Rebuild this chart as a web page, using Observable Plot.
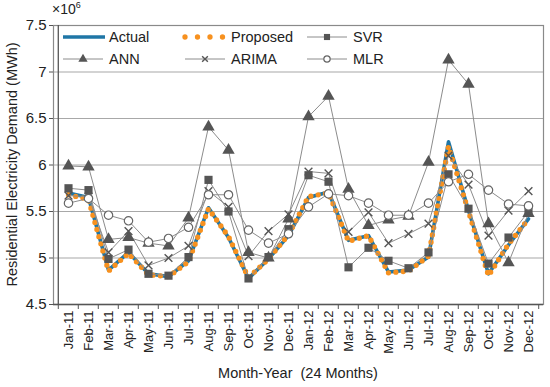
<!DOCTYPE html>
<html><head>
<meta charset="utf-8">
<script src="https://cdn.jsdelivr.net/npm/d3@7"></script>
<script src="https://cdn.jsdelivr.net/npm/@observablehq/plot@0.6"></script>
<style>body{margin:0;background:#fff;} #chart svg{display:block;}</style>
</head><body><div id="chart"></div>
<script>
const months = ["Jan-11","Feb-11","Mar-11","Apr-11","May-11","Jun-11","Jul-11","Aug-11","Sep-11","Oct-11","Nov-11","Dec-11",
                "Jan-12","Feb-12","Mar-12","Apr-12","May-12","Jun-12","Jul-12","Aug-12","Sep-12","Oct-12","Nov-12","Dec-12"];
const actual   = [5.70,5.65,4.87,5.06,4.83,4.80,4.97,5.54,5.22,4.78,4.99,5.24, 5.65,5.71,5.19,5.24,4.85,4.87,5.01,6.25,5.51,4.83,5.14,5.42];
const proposed = [5.68,5.63,4.86,5.05,4.82,4.80,4.96,5.53,5.23,4.79,4.99,5.25, 5.66,5.70,5.18,5.24,4.84,4.86,5.02,6.20,5.50,4.81,5.15,5.42];
const svr      = [5.75,5.73,4.99,5.09,4.83,4.81,5.01,5.84,5.50,4.78,5.01,5.31, 5.89,5.82,4.90,5.11,4.97,4.89,5.06,5.90,5.53,4.94,5.22,5.50];
const ann      = [5.99,5.98,5.20,5.22,5.16,5.13,5.43,6.41,6.16,5.06,5.00,5.42, 6.52,6.74,5.74,5.35,5.41,5.45,6.03,7.13,6.87,5.37,4.95,5.48];
const arima    = [5.67,5.66,5.06,5.29,4.92,5.00,5.13,5.72,5.55,5.02,5.29,5.47, 5.93,5.91,5.28,5.49,5.16,5.26,5.37,6.10,5.79,5.24,5.51,5.72];
const mlr      = [5.59,5.64,5.46,5.40,5.17,5.21,5.33,5.68,5.68,5.30,5.16,5.26, 5.55,5.69,5.67,5.59,5.46,5.46,5.59,5.82,5.90,5.73,5.58,5.56];
const yTicks = [4.5,5,5.5,6,6.5,7,7.5];
const seriesNames = ["Actual","Proposed","SVR","ANN","ARIMA","MLR"];

const W = 550, H = 387, ML = 53, MR = 7, MT = 25, MB = 83;
const step = (W - ML - MR) / months.length;
const rows = (vals) => vals.map((v, i) => ({month: months[i], value: v}));

const models = [
  {name: "SVR", vals: svr, symbol: "square", r: 4.6, fill: "#555", stroke: "none", sw: 0},
  {name: "ANN", vals: ann, symbol: "triangle", r: 4.6, fill: "#555", stroke: "none", sw: 0},
  {name: "ARIMA", vals: arima, symbol: "times", r: 3.6, fill: "none", stroke: "#555", sw: 1.4},
  {name: "MLR", vals: mlr, symbol: "circle", r: 4.2, fill: "white", stroke: "#666", sw: 1.2}
];

const marks = [
  Plot.gridY(yTicks.slice(1), {stroke: "#a8a8a8", strokeOpacity: 1, strokeWidth: 1.2}),
  Plot.frame({stroke: "#8a8a8a", strokeWidth: 1.2}),
  Plot.line(rows(actual), {x: "month", y: "value", stroke: "#1f76a6", strokeWidth: 3.6}),
  Plot.line(rows(proposed), {x: "month", y: "value", stroke: "#f7911f", strokeWidth: 5.3, strokeDasharray: "0 7.4", strokeLinecap: "round"})
];
for (const m of models) {
  marks.push(Plot.line(rows(m.vals), {x: "month", y: "value", stroke: "#8c8c8c", strokeWidth: 1}));
}
for (const m of models) {
  marks.push(Plot.dot(rows(m.vals), {x: "month", y: "value", symbol: () => m.symbol, r: m.r, fill: m.fill, stroke: m.stroke, strokeWidth: m.sw}));
}
marks.push(
  Plot.ruleX([months[0]], {stroke: "#555", strokeWidth: 1.3, dx: -step/2}),
  Plot.ruleY([4.5], {stroke: "#555", strokeWidth: 1.3}),
  Plot.axisY({ticks: yTicks, tickSize: 4, tickPadding: 3, tickFormat: d => String(d), fontSize: 15, label: null, stroke: "#555"}),
  Plot.axisX({tickSize: 0, tickRotate: -90, tickPadding: 6, fontSize: 13, label: null}),
  Plot.axisX({ticks: months, tickSize: 5, tickFormat: () => "", dx: -step/2, label: null, stroke: "#555"}),
  Plot.axisX({ticks: [months[months.length-1]], tickSize: 5, tickFormat: () => "", dx: step/2, label: null, stroke: "#555"})
);

const chart = Plot.plot({
  width: W, height: H,
  marginLeft: ML, marginRight: MR, marginTop: MT, marginBottom: MB,
  style: {fontFamily: "'Liberation Sans', Arial, sans-serif", fontSize: "13px", color: "#222", background: "#fff"},
  x: {type: "point", domain: months, padding: 0.5, axis: null},
  y: {domain: [4.5, 7.5], axis: null},
  marks
});
document.getElementById("chart").appendChild(chart);

const svg = d3.select(chart);
const font = "'Liberation Sans', Arial, sans-serif";
// exponent note
svg.append("text").attr("x", 52).attr("y", 14).attr("text-anchor", "start").attr("font-family", font).attr("font-size", 14).attr("fill", "#222")
  .text("×10").append("tspan").attr("dy", -6).attr("font-size", 9).text("6");
// y label
svg.append("text").attr("transform", `translate(17,${(MT + H - MB)/2}) rotate(-90)`).attr("text-anchor", "middle")
  .attr("font-family", font).attr("font-size", 14.5).attr("fill", "#222").text("Residential Electricity Demand (MWh)");
// x label
svg.append("text").attr("x", ML + (W - ML - MR)/2).attr("y", 378).attr("text-anchor", "middle")
  .attr("font-family", font).attr("font-size", 14.5).attr("fill", "#222").style("white-space", "pre").text("Month-Year  (24 Months)");

// legend
const legendItems = [
  {name: seriesNames[0], col: 0, row: 0, kind: "actual"},
  {name: seriesNames[1], col: 1, row: 0, kind: "proposed"},
  {name: seriesNames[2], col: 2, row: 0, kind: "model", m: models[0]},
  {name: seriesNames[3], col: 0, row: 1, kind: "model", m: models[1]},
  {name: seriesNames[4], col: 1, row: 1, kind: "model", m: models[2]},
  {name: seriesNames[5], col: 2, row: 1, kind: "model", m: models[3]}
];
const colX = [63, 185, 307], rowY = [37, 59];
const lg = svg.append("g");
for (const it of legendItems) {
  const x0 = colX[it.col], y0 = rowY[it.row];
  const g = lg.append("g");
  if (it.kind === "actual") {
    g.append("line").attr("x1", x0).attr("x2", x0 + 42).attr("y1", y0).attr("y2", y0).attr("stroke", "#1f76a6").attr("stroke-width", 3.6);
  } else if (it.kind === "proposed") {
    g.append("line").attr("x1", x0).attr("x2", x0 + 38).attr("y1", y0).attr("y2", y0).attr("stroke", "#f7911f")
      .attr("stroke-width", 5.3).attr("stroke-dasharray", "0 12.5").attr("stroke-linecap", "round");
  } else {
    g.append("line").attr("x1", x0).attr("x2", x0 + 40).attr("y1", y0).attr("y2", y0).attr("stroke", "#8c8c8c").attr("stroke-width", 1);
    const sym = {square: d3.symbolSquare, triangle: d3.symbolTriangle, times: d3.symbolTimes, circle: d3.symbolCircle}[it.m.symbol];
    const rr = it.m.r * 0.75;
    g.append("path").attr("transform", `translate(${x0 + 20},${y0})`).attr("d", d3.symbol(sym, rr * rr * Math.PI)())
      .attr("fill", it.m.fill).attr("stroke", it.m.stroke).attr("stroke-width", it.m.sw);
  }
  g.append("text").attr("x", x0 + 46).attr("y", y0).attr("dy", "0.35em").attr("text-anchor", "start")
    .attr("font-family", font).attr("font-size", 14.5).attr("fill", "#222").text(it.name);
}
</script>
</body></html>
